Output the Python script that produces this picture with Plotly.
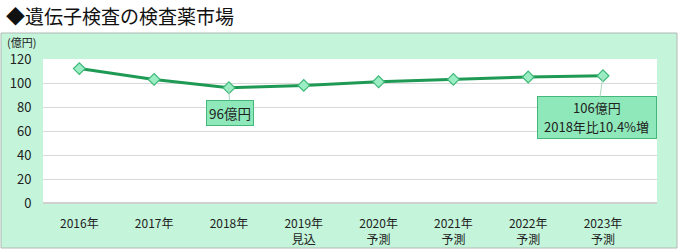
import plotly.graph_objects as go

categories = ["2016年", "2017年", "2018年", "2019年<br>見込", "2020年<br>予測",
              "2021年<br>予測", "2022年<br>予測", "2023年<br>予測"]
values = [112, 103, 96, 98, 101, 103, 105, 106]
y_ticks = [0, 20, 40, 60, 80, 100, 120]
title_text = "◆遺伝子検査の検査薬市場"
unit_text = "(億円)"
label_2018 = "96億円"
label_2023_line1 = "106億円"
label_2023_line2 = "2018年比10.4%増"

FONT = "Noto Sans CJK JP"

L, R, T, B = 43, 23, 59, 47
W, H = 680, 250
pw, ph = W - L - R, H - T - B

def px(x):
    return (x - L) / pw

def py(y):
    return (H - B - y) / ph

fig = go.Figure()
fig.add_trace(go.Scatter(
    x=categories, y=values, mode="lines+markers",
    line=dict(color="#1f9a55", width=3),
    marker=dict(symbol="diamond", size=9, color="#9bedc3",
                line=dict(color="#3cb878", width=1.2)),
    hoverinfo="skip", showlegend=False, cliponaxis=False,
))

box_style = dict(bgcolor="#8ee8b9", bordercolor="#44b87a", borderwidth=1)

fig.update_layout(
    width=W, height=H,
    margin=dict(l=L, r=R, t=T, b=B, autoexpand=False),
    paper_bgcolor="white", plot_bgcolor="white",
    font=dict(family=FONT, size=12, color="#222"),
    xaxis=dict(type="category", showgrid=False, zeroline=False,
               showline=False, ticks="outside", ticklen=10,
               tickcolor="rgba(0,0,0,0)", fixedrange=True, automargin=False,
               tickfont=dict(size=12, color="#222")),
    yaxis=dict(range=[0, 120], tickvals=y_ticks, showgrid=True,
               gridcolor="#d9d9d9", gridwidth=1, zeroline=True,
               zerolinecolor="#d0d0d0", showline=False, automargin=False,
               ticks="outside", ticklen=8, tickcolor="rgba(0,0,0,0)",
               tickfont=dict(size=13, color="#222"), fixedrange=True),
    shapes=[
        dict(type="rect", xref="paper", yref="paper", layer="below",
             x0=px(1), x1=px(677), y0=py(248), y1=py(33),
             fillcolor="#c4f5da", line=dict(color="#b0b8b4", width=1)),
        dict(type="rect", xref="paper", yref="paper", layer="below",
             x0=0, x1=1, y0=0, y1=1,
             fillcolor="white", line=dict(width=0)),
    ],
    annotations=[
        dict(text=title_text, xref="paper", yref="paper",
             x=px(4), y=py(16), xanchor="left", yanchor="middle",
             showarrow=False, font=dict(size=19, color="#111", family=FONT)),
        dict(text=unit_text, xref="paper", yref="paper",
             x=px(5), y=py(42), xanchor="left", yanchor="middle",
             showarrow=False, font=dict(size=11, color="#222")),
        dict(text=label_2018, x=categories[2], y=values[2], xref="x", yref="y",
             showarrow=True, arrowhead=0, arrowwidth=1, arrowcolor="#a8d8bd",
             ax=1, ay=25, borderpad=2, font=dict(size=13.5, color="#222"),
             **box_style),
        # box with leader line for 2023
        dict(text=" ", x=categories[7], y=values[7], xref="x", yref="y",
             showarrow=True, arrowhead=0, arrowwidth=1, arrowcolor="#a8d8bd",
             ax=-6, ay=42, width=116, height=39, borderpad=1,
             font=dict(size=12), **box_style),
        dict(text=label_2023_line1, x=categories[7], y=values[7], xref="x", yref="y",
             showarrow=False, xshift=-6, yshift=-32,
             font=dict(size=13, color="#222")),
        dict(text=label_2023_line2, x=categories[7], y=values[7], xref="x", yref="y",
             showarrow=False, xshift=-7, yshift=-51,
             font=dict(size=13, color="#222")),
    ],
)

fig.write_html("out.html")
